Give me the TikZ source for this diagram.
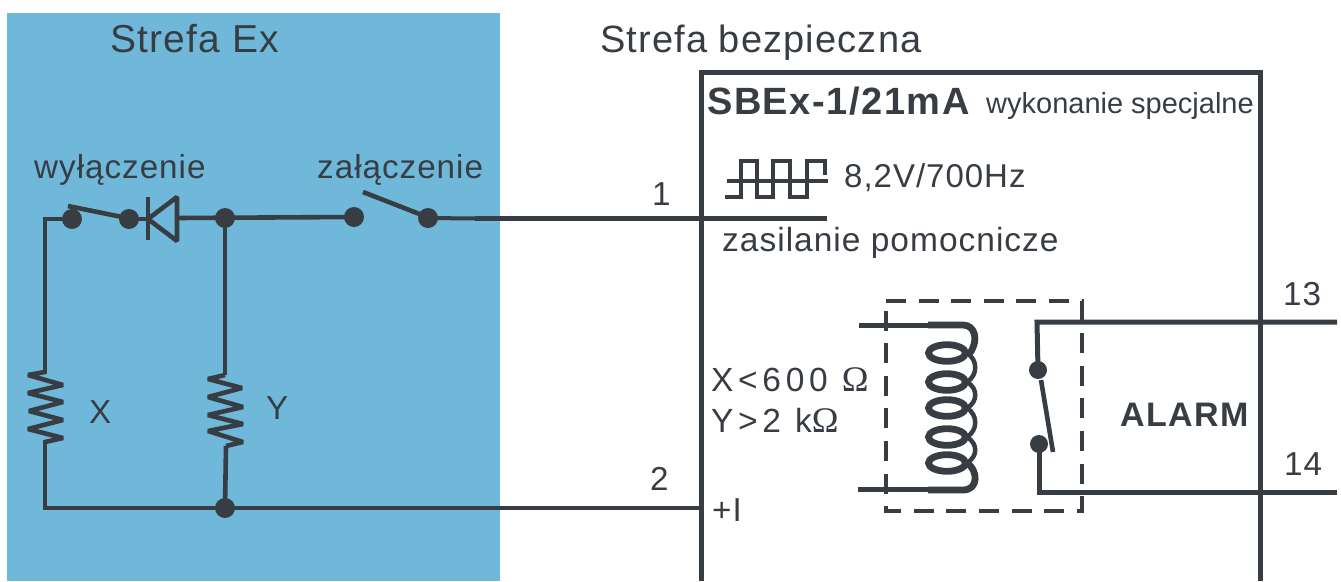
\documentclass[tikz,border=0pt]{standalone}
\usepackage{fontspec}
\setmainfont{Liberation Sans}[LetterSpace=3]
\newfontfamily\plaintxt{Liberation Sans}
\newfontfamily\widetxt{Liberation Sans}[LetterSpace=14]
\newfontfamily\boldtxt{Liberation Sans Bold}[LetterSpace=4]
\newfontfamily\serifom{Liberation Serif}
\usetikzlibrary{calc}
\definecolor{ink}{HTML}{373D43}
\definecolor{exblue}{HTML}{70B8D9}
\tikzset{
  wire/.style={draw=ink,line width=4.6pt},
  heavy/.style={draw=ink,line width=5pt},
  thin wire/.style={draw=ink,line width=4.5pt},
  wave/.style={draw=ink,line width=3.6pt,line join=miter},
  dot/.style={circle,fill=ink,inner sep=0pt,minimum size=20pt},
  txt/.style={anchor=base west,inner sep=0pt,text=ink,font=\fontsize{33.2}{36}\selectfont},
  big/.style={anchor=base west,inner sep=0pt,text=ink,font=\fontsize{39}{42}\selectfont},
  bld/.style={anchor=base west,inner sep=0pt,text=ink},
  coilw/.style={draw=ink,line width=6.8pt},
}
\begin{document}
\begin{tikzpicture}[x=1pt,y=-1pt]
\useasboundingbox (0,0) rectangle (1341,581);
\fill[exblue] (7,13) rectangle (500,581);
% text
\node[big] (tEx) at (110,52) {Strefa Ex};
\node[big,font=\fontsize{38}{42}\selectfont] (tSafe) at (600,52) {Strefa bezpieczna};
\node[bld,font=\boldtxt\fontsize{38}{40}\selectfont] (tName) at (707,114) {SBEx-1/21mA};
\node[bld,font=\plaintxt\fontsize{29}{32}\selectfont] (tSpec) at (986,113) {wykonanie specjalne};
\node[txt] (tOff) at (34,178) {wyłączenie};
\node[txt] (tOn) at (317,178) {załączenie};
\node[txt,font=\fontsize{33}{36}\selectfont] (tV) at (844,187) {8,2V/700Hz};
\node[txt,font=\fontsize{33.5}{36}\selectfont] (tAux) at (722,251) {zasilanie pomocnicze};
\node[txt] (t1) at (652,205) {1};
\node[txt] (t2) at (650,490) {2};
\node[txt] (t13) at (1283,305) {13};
\node[txt] (t14) at (1284,475) {14};
\node[txt] (tX) at (89,423) {X};
\node[txt] (tY) at (266,419) {Y};
\node[txt] (tI) at (712,521) {+I};
\node[txt,font=\widetxt\fontsize{33.5}{36}\selectfont] (tXv) at (711,391) {X<600 {\serifom\fontsize{36}{36}\selectfont Ω}};
\node[txt,font=\widetxt\fontsize{33.5}{36}\selectfont] (tYv) at (711,432) {Y>2 k{\serifom\fontsize{36}{36}\selectfont Ω}};
\node[bld,font=\boldtxt\fontsize{34}{36}\selectfont] (tAl) at (1120,426) {ALARM};
% named points
\node[dot] (d1) at (72,219) {};
\node[dot] (d2) at (129,219) {};
\node[dot] (d3) at (225,218) {};
\node[dot] (d4) at (354,217) {};
\node[dot] (d5) at (428,218) {};
\node[dot] (d6) at (225,508) {};
\node[dot,minimum size=18pt] (d7) at (1038,370) {};
\node[dot,minimum size=18pt] (d8) at (1039,444) {};
\coordinate (cTL) at (45,219);
\coordinate (cBL) at (45,508);
\coordinate (rxT) at (45,372);
\coordinate (rxB) at (45,442);
\coordinate (ryT) at (225,375);
\coordinate (ryB) at (226,446);
\coordinate (dA) at (148,219);
\coordinate (dK) at (177,218);
\coordinate (wJoin) at (475,218.5);
\coordinate (auxEnd) at (827,218.5);
\coordinate (boxIn) at (702,508);
\coordinate (r13) at (1337,322);
\coordinate (r14) at (1337,492);
\coordinate (c13) at (1037,322);
\coordinate (c14) at (1039,492);
% device box
\draw[draw=ink,line width=5pt] (701.5,581) -- (701.5,72) -- (1260.5,72) -- (1260.5,581);
% wires
\draw[wire,line cap=rect] (d1.center) -- (cTL) -- (rxT);
\draw[wire,line cap=rect] (rxB) -- (cBL) -- (boxIn);
\draw[wire] (d2.center) -- (dA);
\draw[wire] (dK) -- (d4.center);
\draw[wire] (d3.center) -- (ryT);
\draw[wire] (ryB) -- (d6.center);
\draw[draw=ink,line width=4pt] (d5.center) -- (wJoin);
\draw[heavy] (wJoin) -- (auxEnd);
\draw[heavy] (r13) -- (c13) -- (d7.center);
\draw[heavy] (r14) -- (c14) -- (d8.center);
% resistors
\draw[wire,line join=bevel] (rxT) -- (28,375) -- (63,385) -- (28,393) -- (63,402) -- (29,411) -- (63,420) -- (28,429) -- (63,438) -- (rxB);
\draw[wire,line join=bevel] (ryT) -- (208,379) -- (242,388) -- (208,397) -- (243,407) -- (208,415) -- (243,424) -- (208,431) -- (243,442) -- (ryB);
% switch levers
\draw[wire] (68,206) -- (122,217);
\draw[wire] (363,192) -- (422,215);
\draw[wire] (1041,380) -- (1053,452);
% diode
\draw[wire] (dA |- 0,197) -- (dA |- 0,240);
\draw[wire,line join=bevel] (177,197) -- (dA) -- (177,241) -- cycle;
% square wave
\draw[wave] (727,181) -- (828,181);
\draw[wave] (725,197) -- (741,197) -- (741,161) -- (757,161) -- (757,197) -- (773,197) -- (773,161) -- (790,161) -- (790,197) -- (807,197) -- (807,161) -- (825,161) -- (825,175);
% coil
\draw[heavy] (859,325) -- (963,325);
\draw[heavy] (858,489.5) -- (963,489.5);
\draw[coilw] (928,325) -- (963,325) .. controls (975,325) and (979,340) .. (970,353);
\foreach \yy in {353,382,408,437,463} \draw[coilw] (947,\yy) ellipse (18.5pt and 8.3pt);
\draw[thin wire] (967,353) .. controls (978,360) and (978,375) .. (967,382);
\draw[thin wire] (967,382) .. controls (978,388) and (978,402) .. (967,408);
\draw[thin wire] (967,408) .. controls (978,415) and (978,430) .. (967,437);
\draw[thin wire] (967,437) .. controls (978,444) and (978,456) .. (967,463);
\draw[coilw] (967,463) .. controls (978,470) and (979,490) .. (963,490) -- (928,490);
% dashed enclosure
\draw[draw=ink,line width=4pt,dash pattern=on 20pt off 12.6pt] (886,301) -- (1082,301) -- (1082,511) -- (886,511) -- cycle;
\end{tikzpicture}
\end{document}
